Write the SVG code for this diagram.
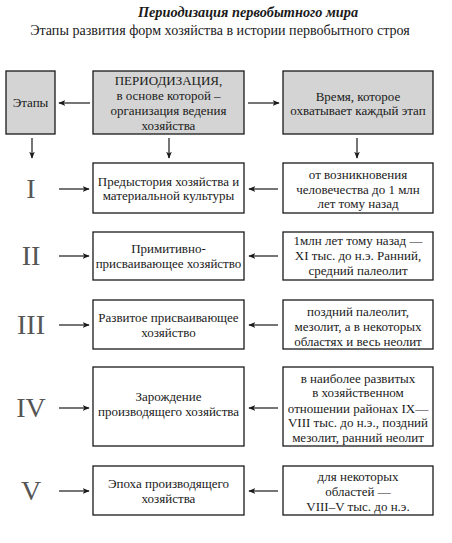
<svg xmlns="http://www.w3.org/2000/svg" width="452" height="543" viewBox="0 0 452 543">
<style>
text{font-family:"Liberation Serif","DejaVu Serif",serif;fill:#1a1a1a;}
.t{font-size:13px;text-anchor:middle;}
.title{font-size:14.3px;font-weight:bold;font-style:italic;text-anchor:middle;}
.sub{font-size:14.1px;text-anchor:middle;}
.rom{font-size:28px;text-anchor:middle;fill:#555;}
.box{fill:#fff;stroke:#1a1a1a;stroke-width:1.3;}
.gbox{fill:#d4d4d4;stroke:#1a1a1a;stroke-width:1.3;}
.c line{stroke:#1a1a1a;stroke-width:1.2;marker-end:url(#ah);}
</style>
<defs>
<marker id="ah" viewBox="0 0 10 8" refX="9" refY="4" markerWidth="7" markerHeight="5.6" orient="auto" markerUnits="userSpaceOnUse">
<path d="M0,0 L10,4 L0,8 L2.5,4 Z" fill="#1a1a1a"/>
</marker>
</defs>
<rect width="452" height="543" fill="#fff"/>
<text class="title" x="248" y="17">Периодизация первобытного мира</text>
<text class="sub" x="220" y="35">Этапы развития форм хозяйства в истории первобытного строя</text>

<g id="etapy"><rect class="gbox" x="6" y="71" width="49" height="63"/><text class="t" x="30.5" y="107">Этапы</text></g>
<g id="periodizacia"><rect class="gbox" x="93" y="71" width="151" height="63"/>
<text class="t" x="168.5" y="85">ПЕРИОДИЗАЦИЯ,</text>
<text class="t" x="168.5" y="100">в основе которой –</text>
<text class="t" x="168.5" y="115">организация ведения</text>
<text class="t" x="168.5" y="130">хозяйства</text></g>
<g id="vremya"><rect class="gbox" x="283" y="71" width="150" height="63"/>
<text class="t" x="358" y="101">Время, которое</text>
<text class="t" x="358" y="115">охватывает каждый этап</text></g>

<g id="r1"><text class="rom" x="31" y="198">I</text></g>
<g id="r2"><text class="rom" x="31" y="265">II</text></g>
<g id="r3"><text class="rom" x="31" y="334">III</text></g>
<g id="r4"><text class="rom" x="31" y="417">IV</text></g>
<g id="r5"><text class="rom" x="31" y="500">V</text></g>

<g id="a1"><rect class="box" x="93" y="163" width="151" height="50"/>
<text class="t" x="168.5" y="186">Предыстория хозяйства и</text>
<text class="t" x="168.5" y="200">материальной культуры</text></g>
<g id="b1"><rect class="box" x="283" y="163" width="150" height="50"/>
<text class="t" x="358" y="179">от возникновения</text>
<text class="t" x="358" y="194">человечества до 1 млн</text>
<text class="t" x="358" y="208">лет тому назад</text></g>

<g id="a2"><rect class="box" x="93" y="232" width="151" height="48"/>
<text class="t" x="168.5" y="253">Примитивно-</text>
<text class="t" x="168.5" y="268">присваивающее хозяйство</text></g>
<g id="b2"><rect class="box" x="283" y="232" width="150" height="48"/>
<text class="t" x="358" y="245">1млн  лет тому назад —</text>
<text class="t" x="358" y="260">XI тыс. до н.э. Ранний,</text>
<text class="t" x="358" y="275">средний палеолит</text></g>

<g id="a3"><rect class="box" x="93" y="300" width="151" height="49"/>
<text class="t" x="168.5" y="322">Развитое присваивающее</text>
<text class="t" x="168.5" y="337">хозяйство</text></g>
<g id="b3"><rect class="box" x="283" y="300" width="150" height="49"/>
<text class="t" x="358" y="316">поздний палеолит,</text>
<text class="t" x="358" y="331">мезолит, а в некоторых</text>
<text class="t" x="358" y="346">областях  и весь неолит</text></g>

<g id="a4"><rect class="box" x="93" y="367" width="151" height="79"/>
<text class="t" x="168.5" y="401">Зарождение</text>
<text class="t" x="168.5" y="416">производящего хозяйства</text></g>
<g id="b4"><rect class="box" x="283" y="367" width="150" height="79"/>
<text class="t" x="358" y="383">в наиболее развитых</text>
<text class="t" x="358" y="397">в хозяйственном</text>
<text class="t" x="358" y="413">отношении районах IX—</text>
<text class="t" x="358" y="427">VIII тыс. до н.э., поздний</text>
<text class="t" x="358" y="442">мезолит, ранний неолит</text></g>

<g id="a5"><rect class="box" x="93" y="466" width="151" height="49"/>
<text class="t" x="168.5" y="488">Эпоха производящего</text>
<text class="t" x="168.5" y="503">хозяйства</text></g>
<g id="b5"><rect class="box" x="283" y="466" width="150" height="49"/>
<text class="t" x="358" y="481">для некоторых</text>
<text class="t" x="358" y="496">областей —</text>
<text class="t" x="358" y="511">VIII–V тыс. до н.э.</text></g>

<g id="connectors" class="c">
<line x1="90" y1="103" x2="59" y2="103"/>
<line x1="248" y1="103" x2="279" y2="103"/>
<line x1="32" y1="138" x2="32" y2="158"/>
<line x1="169" y1="138" x2="169" y2="158"/>
<line x1="357" y1="138" x2="357" y2="158"/>
<line x1="59" y1="189" x2="89" y2="189"/>
<line x1="278" y1="189" x2="249" y2="189"/>
<line x1="59" y1="256" x2="89" y2="256"/>
<line x1="278" y1="256" x2="249" y2="256"/>
<line x1="59" y1="325" x2="89" y2="325"/>
<line x1="278" y1="325" x2="249" y2="325"/>
<line x1="59" y1="408" x2="89" y2="408"/>
<line x1="278" y1="408" x2="249" y2="408"/>
<line x1="59" y1="491" x2="89" y2="491"/>
<line x1="278" y1="491" x2="249" y2="491"/>
</g>
</svg>
